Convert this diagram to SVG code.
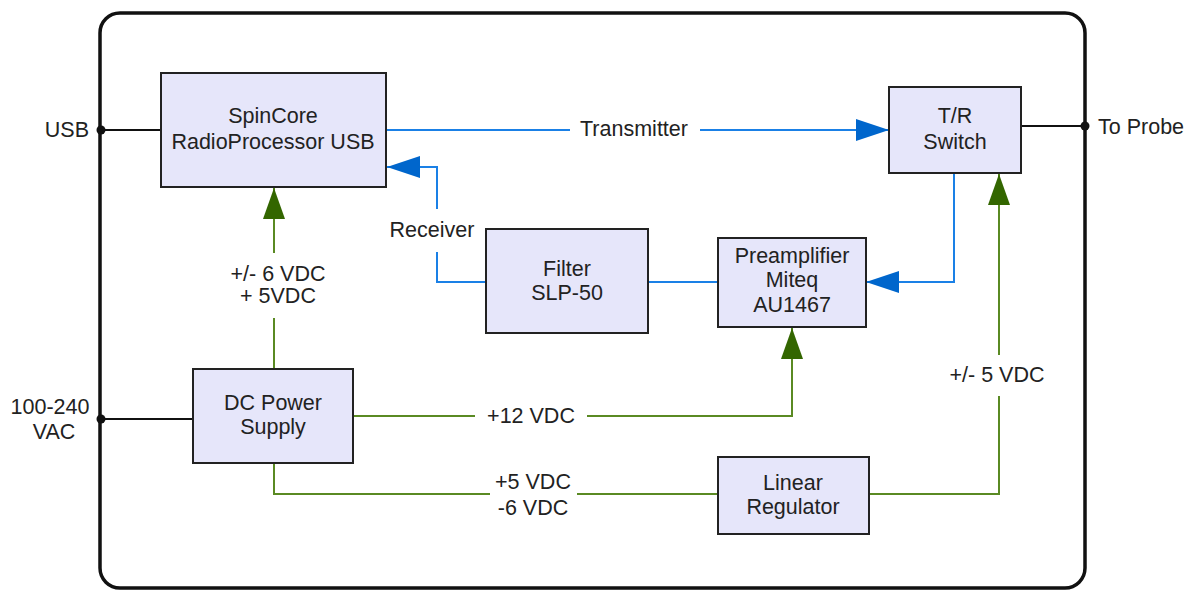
<svg xmlns="http://www.w3.org/2000/svg" width="1188" height="590" viewBox="0 0 1188 590">
<defs>
<style>
.box{fill:#e6e6fa;stroke:#222;stroke-width:2}
.t{font-family:"Liberation Sans",Arial,sans-serif;font-size:21.5px;fill:#222;text-anchor:middle}
.blue{fill:none;stroke:#1a80e6;stroke-width:2}
.green{fill:none;stroke:#5a8a23;stroke-width:2}
.blk{fill:none;stroke:#111;stroke-width:2}
.bg{fill:#fff}
</style>
<marker id="ab" markerUnits="userSpaceOnUse" markerWidth="33" markerHeight="22" refX="33" refY="11" orient="auto">
<path d="M0,0 L33,11 L0,22 z" fill="#0066cc"/>
</marker>
<marker id="ag" markerUnits="userSpaceOnUse" markerWidth="31" markerHeight="22" refX="31" refY="11" orient="auto">
<path d="M0,0 L31,11 L0,22 z" fill="#336600"/>
</marker>
</defs>
<rect width="1188" height="590" fill="#fff"/>
<g id="frame">
<rect x="100" y="13" width="985" height="575" rx="20" ry="20" fill="none" stroke="#111" stroke-width="3.5"/>
</g>
<g id="connectors">
<path class="blk" d="M101,130 H161"/>
<path class="blk" d="M1021,126 H1085"/>
<path class="blk" d="M101,419 H193"/>
<circle cx="101" cy="130" r="4.5" fill="#111"/>
<circle cx="1085" cy="126" r="4.5" fill="#111"/>
<circle cx="101" cy="419" r="4.5" fill="#111"/>
<path class="blue" d="M386,130 H889" marker-end="url(#ab)"/>
<path class="blue" d="M486,282 H437 V167 H387" marker-end="url(#ab)"/>
<path class="blue" d="M954,173 V282 H866" marker-end="url(#ab)"/>
<path class="blue" d="M648,282 H718"/>
<path class="green" d="M274,369 V188" marker-end="url(#ag)"/>
<path class="green" d="M353,416 H792 V328" marker-end="url(#ag)"/>
<path class="green" d="M274,463 V494 H718"/>
<path class="green" d="M869,494 H999 V174" marker-end="url(#ag)"/>
<rect class="bg" x="570" y="118" width="130" height="24"/>
<rect class="bg" x="385" y="209" width="95" height="43"/>
<rect class="bg" x="225" y="253" width="105" height="65"/>
<rect class="bg" x="475" y="404" width="112" height="24"/>
<rect class="bg" x="490" y="470" width="87" height="50"/>
<rect class="bg" x="940" y="355" width="118" height="41"/>
<text class="t" x="634" y="136">Transmitter</text>
<text class="t" x="432" y="237">Receiver</text>
<text class="t" x="278" y="281">+/- 6 VDC</text>
<text class="t" x="278" y="303">+ 5VDC</text>
<text class="t" x="531" y="423">+12 VDC</text>
<text class="t" x="533" y="489">+5 VDC</text>
<text class="t" x="533" y="515">-6 VDC</text>
<text class="t" x="997" y="382">+/- 5 VDC</text>
<text class="t" x="89" y="137" style="text-anchor:end">USB</text>
<text class="t" x="1098" y="134" style="text-anchor:start">To Probe</text>
<text class="t" x="50" y="414">100-240</text>
<text class="t" x="54" y="439">VAC</text>
</g>
<g id="spincore">
<rect class="box" x="161" y="73" width="225" height="114"/>
<text class="t" x="273" y="123">SpinCore</text>
<text class="t" x="273" y="149">RadioProcessor USB</text>
</g>
<g id="trswitch">
<rect class="box" x="889" y="87" width="132" height="86"/>
<text class="t" x="955" y="123">T/R</text>
<text class="t" x="955" y="149">Switch</text>
</g>
<g id="filter">
<rect class="box" x="486" y="229" width="162" height="104"/>
<text class="t" x="567" y="276">Filter</text>
<text class="t" x="567" y="300">SLP-50</text>
</g>
<g id="preamp">
<rect class="box" x="718" y="238" width="148" height="89"/>
<text class="t" x="792" y="263">Preamplifier</text>
<text class="t" x="792" y="287">Miteq</text>
<text class="t" x="792" y="312">AU1467</text>
</g>
<g id="dcpower">
<rect class="box" x="193" y="369" width="160" height="94"/>
<text class="t" x="273" y="410">DC Power</text>
<text class="t" x="273" y="434">Supply</text>
</g>
<g id="linreg">
<rect class="box" x="718" y="457" width="151" height="77"/>
<text class="t" x="793" y="490">Linear</text>
<text class="t" x="793" y="514">Regulator</text>
</g>
</svg>
